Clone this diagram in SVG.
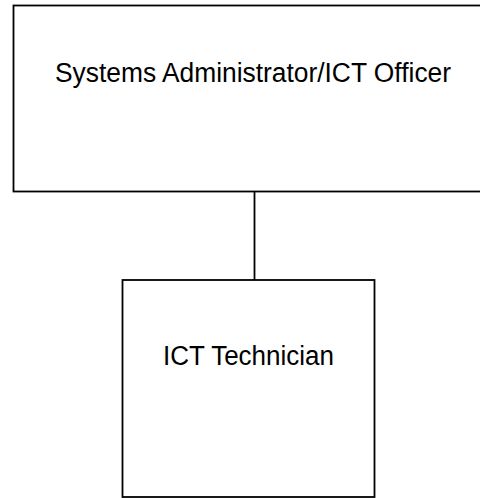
<svg xmlns="http://www.w3.org/2000/svg" width="480" height="498" viewBox="0 0 480 498">
<style>
.box{fill:#fff;stroke:#000;stroke-width:1.8}
.lbl{font-family:"Liberation Sans",Arial,sans-serif;font-size:27px;fill:#000}
.conn{stroke:#000;stroke-width:1.8;fill:none}
</style>
<rect width="480" height="498" fill="#fff"/>
<g id="connectors">
<line class="conn" x1="254.5" y1="191" x2="254.5" y2="280"/>
</g>
<g id="node-sysadmin">
<rect class="box" x="13.5" y="5.5" width="470" height="186"/>
<text class="lbl" x="55" y="82" textLength="396" lengthAdjust="spacingAndGlyphs">Systems Administrator/ICT Officer</text>
</g>
<g id="node-technician">
<rect class="box" x="122.5" y="280" width="252" height="217"/>
<text class="lbl" x="163" y="365" textLength="171" lengthAdjust="spacingAndGlyphs">ICT Technician</text>
</g>
</svg>
